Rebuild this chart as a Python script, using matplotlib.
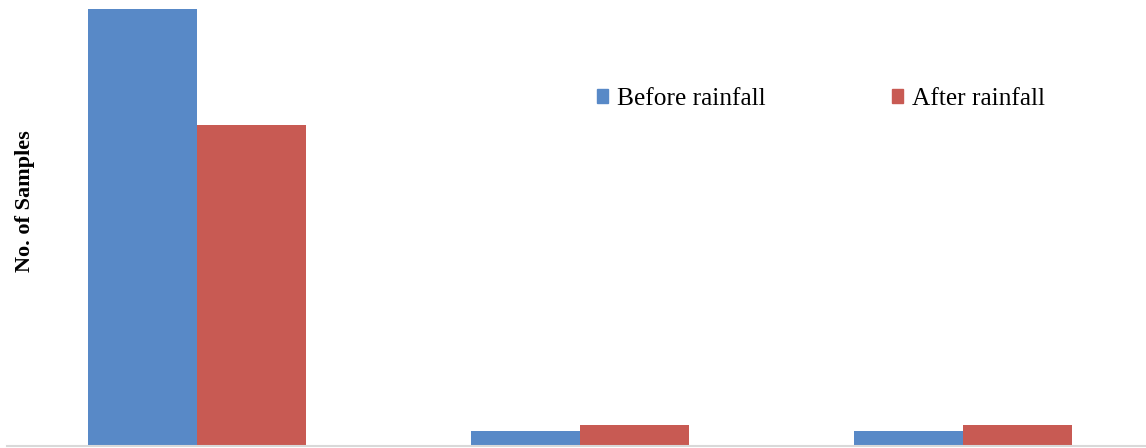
import matplotlib.pyplot as plt
import numpy as np
from matplotlib.patches import Patch

categories = ['A', 'B', 'C']
before = [150, 5, 5]
after = [110, 7.2, 7.2]

blue = '#5889C7'
red = '#C85A53'

plt.rcParams['font.family'] = ['Liberation Serif', 'DejaVu Serif']

fig = plt.figure(figsize=(11.46, 4.48), dpi=100)
ax = fig.add_axes([7 / 1146, 2 / 448, 1139 / 1146, 446 / 448])

x = np.arange(len(categories))
w = 0.285
ax.bar(x - w / 2, before, width=w, color=blue)
ax.bar(x + w / 2, after, width=w, color=red)

ax.set_xlim(-0.496, 2.478)
ax.set_ylim(0, 153)
ax.set_xticks([])
ax.set_yticks([])
for s in ['top', 'right', 'left']:
    ax.spines[s].set_visible(False)
ax.spines['bottom'].set_color('#D9D9D9')
ax.spines['bottom'].set_linewidth(1.5)

fig.text(25 / 1146, 1 - 201 / 448, 'No. of Samples', rotation=90,
         ha='center', va='center', fontsize=16, fontweight='bold')

handles = [Patch(color=blue, label='Before rainfall'),
           Patch(color=red, label='After rainfall')]
fig.legend(handles=handles, ncol=2, frameon=False, fontsize=18.3,
           loc='center left', bbox_to_anchor=(597 / 1146, 1 - 99 / 448),
           bbox_transform=fig.transFigure, borderpad=0, borderaxespad=0,
           handlelength=0.45, handleheight=0.45, handletextpad=0.35,
           columnspacing=4.95)

fig.savefig('out.png', dpi=100)
